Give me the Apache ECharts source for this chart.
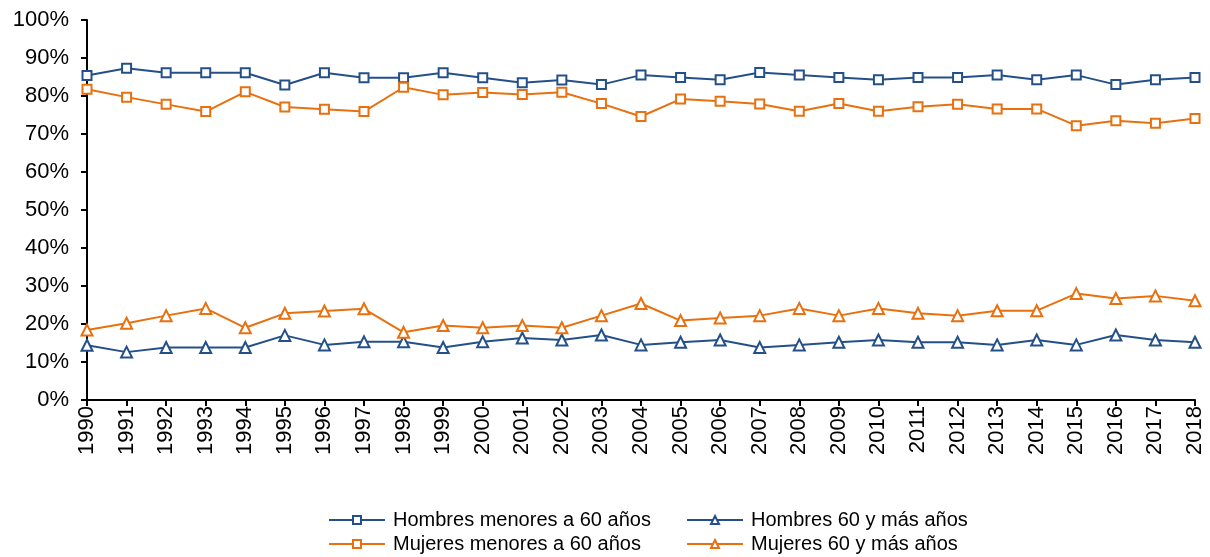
<!DOCTYPE html>
<html><head><meta charset="utf-8">
<script src="https://cdn.jsdelivr.net/npm/echarts@6/dist/echarts.min.js"></script>
<style>html,body{margin:0;padding:0;background:#fff}#c{width:1210px;height:557px}</style>
</head><body><div id="c"></div>
<script>
var years = ['1990','1991','1992','1993','1994','1995','1996','1997','1998','1999','2000','2001','2002','2003','2004','2005','2006','2007','2008','2009','2010','2011','2012','2013','2014','2015','2016','2017','2018'];
var hombresMenores = [85.4,87.3,86.1,86.1,86.1,82.9,86.1,84.8,84.8,86.1,84.8,83.5,84.2,83.0,85.5,84.9,84.3,86.2,85.5,84.9,84.3,84.9,84.9,85.5,84.3,85.5,83.0,84.3,84.9];
var mujeresMenores = [81.8,79.7,77.8,75.9,81.1,77.1,76.5,75.9,82.3,80.3,80.9,80.4,81.0,78.0,74.6,79.2,78.6,77.9,76.0,78.0,76.0,77.2,77.8,76.6,76.6,72.2,73.5,72.8,74.1];
var hombres60 = [14.4,12.6,13.8,13.8,13.8,17.0,14.5,15.3,15.3,13.8,15.3,16.3,15.8,17.1,14.5,15.2,15.8,13.8,14.5,15.2,15.8,15.2,15.2,14.5,15.8,14.5,17.1,15.8,15.2];
var mujeres60 = [18.4,20.2,22.2,24.1,19.0,22.8,23.4,24.0,17.8,19.6,19.0,19.6,19.0,22.2,25.4,20.9,21.6,22.2,24.1,22.2,24.1,22.8,22.2,23.5,23.5,28.0,26.7,27.4,26.1];
var names = ['Hombres menores a 60 años','Hombres 60 y más años','Mujeres menores a 60 años','Mujeres 60 y más años'];

var BLUE = '#245089', ORANGE = '#E8700E';
var FONT = '"Liberation Sans", Arial, sans-serif';

function mkSeries(name, data, color, symbol, size) {
  return {
    name: name, type: 'line', data: data, symbol: symbol, symbolSize: size,
    showAllSymbol: true,
    lineStyle: {color: color, width: 2},
    itemStyle: {color: '#fff', borderColor: color, borderWidth: 2},
    emphasis: {disabled: true},
    animation: false
  };
}
function mkLegend(name, left, top) {
  return {
    data: [name], left: left, top: top, itemWidth: 56, itemHeight: 10, itemGap: 0,
    textStyle: {fontFamily: FONT, fontSize: 20, color: '#000', padding: [0,0,0,3]},
    padding: 0
  };
}
var chart = echarts.init(document.getElementById('c'));
chart.setOption({
  backgroundColor: '#fff',
  animation: false,
  grid: {left: 87, right: 15, top: 20, bottom: 157, containLabel: false},
  legend: [
    mkLegend(names[0], 328, 510),
    mkLegend(names[1], 686, 510),
    mkLegend(names[2], 328, 534),
    mkLegend(names[3], 686, 534)
  ],
  xAxis: {
    type: 'category', data: years, boundaryGap: false,
    axisLine: {lineStyle: {color: '#000', width: 2}},
    axisTick: {show: true, alignWithLabel: true, length: 6, lineStyle: {color: '#000', width: 2}},
    axisLabel: {rotate: 90, interval: 0, fontFamily: FONT, fontSize: 22, color: '#000', margin: 6}
  },
  yAxis: {
    type: 'value', min: 0, max: 100, interval: 10,
    splitLine: {show: false},
    axisLine: {show: true, lineStyle: {color: '#000', width: 2}},
    axisTick: {show: true, length: 6, lineStyle: {color: '#000', width: 2}},
    axisLabel: {formatter: '{value}%', fontFamily: FONT, fontSize: 22, color: '#000', margin: 18}
  },
  series: [
    mkSeries(names[0], hombresMenores, BLUE, 'rect', 9),
    mkSeries(names[1], hombres60, BLUE, 'triangle', 11),
    mkSeries(names[2], mujeresMenores, ORANGE, 'rect', 9),
    mkSeries(names[3], mujeres60, ORANGE, 'triangle', 11)
  ]
});
</script></body></html>
